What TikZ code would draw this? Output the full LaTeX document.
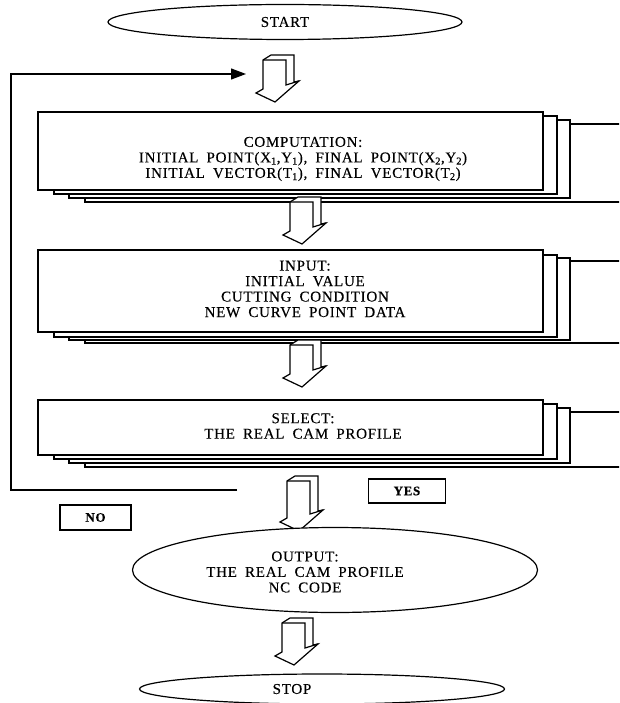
\documentclass[tikz,border=0pt]{standalone}
\usepackage{fontspec}
\setmainfont{Liberation Serif}[LetterSpace=5, WordSpace=1.8, FakeBold=0.3]
\usetikzlibrary{calc, positioning, arrows.meta, shapes.geometric}

\tikzset{
  pics/blockarrow/.style={code={
    \draw[fill=white] (0,0) -- (8,-5) -- (31,-5) -- (31,22+#1) -- (36,21+#1) -- (12,42+#1) -- (-7,33+#1) -- (0,29+#1) -- cycle;
    \draw (0,0) -- (23,0) -- (23,25+#1) -- (36,21+#1);
  }},
  pics/blockarrow/.default=0
}

\begin{document}
\begin{tikzpicture}[x=1pt, y=-1pt, line width=1.2pt,
  every node/.style={font=\fontsize{15}{15.5}\selectfont, align=center},
  box/.style={draw, fill=white, minimum width=505, minimum height=#1, inner sep=0pt},
  oval/.style={ellipse, draw, fill=white, inner sep=0pt},
  tag/.style={draw, font=\fontsize{13}{15}\selectfont\bfseries, inner sep=0pt}]
\clip (0,0) rectangle (619,703);

% Start
\node[oval, minimum width=354, minimum height=35] (start) at (285,22) {START};
\pic at (263,60) {blockarrow};

% Loop back
\coordinate (loopend) at (237,490);
\coordinate (loopin) at (246,74);
\draw[-{Triangle[length=15pt,width=11pt]}] (loopend) -- (11,490) -- (11,74) -- (loopin);

% Computation box and its stack
\foreach \d/\e/\r in {47/12/630, 31/8/570, 16/4/557}
  \draw[fill=white] (38+\d,112+\e) rectangle (\r,190+\e);
\node[box=78] (comp) at (290.5,151) {};
\node (comptext) at (303,159) {COMPUTATION:\\
  INITIAL POINT(X\textsubscript{1},Y\textsubscript{1}), FINAL POINT(X\textsubscript{2},Y\textsubscript{2})\\
  INITIAL VECTOR(T\textsubscript{1}), FINAL VECTOR(T\textsubscript{2})};
\pic at (290,202) {blockarrow};

% Input box
\foreach \d/\e/\r in {47/11/630, 31/8/570, 16/5/557}
  \draw[fill=white] (38+\d,250+\e) rectangle (\r,332+\e);
\node[box=82] (input) at (290.5,291) {};
\node (inputtext) at (305,289) {INPUT:\\ INITIAL VALUE\\ CUTTING CONDITION\\ NEW CURVE POINT DATA};
\pic at (290,345) {blockarrow};

% Select box
\foreach \d/\e/\r in {47/12/630, 31/8/570, 16/4/557}
  \draw[fill=white] (38+\d,400+\e) rectangle (\r,455+\e);
\node[box=55] (select) at (290.5,427.5) {};
\node (selecttext) at (303,426) {SELECT:\\ THE REAL CAM PROFILE};
\pic at (287,481) {blockarrow=8};

% Decision labels
\node[tag, minimum width=77, minimum height=24] (yes) at (407,491) {YES};
\node[tag, minimum width=71, minimum height=25] (no) at (95.5,517.5) {NO};

% Output and stop
\node[oval, minimum width=405, minimum height=85] (output) at (335,570) {};
\node (outputtext) at (305,572) {OUTPUT:\\ THE REAL CAM PROFILE\\ NC CODE};
\pic at (282,623) {blockarrow};
\node[oval, minimum width=365, minimum height=30] (stop) at (322,689) {};
\node (stoptext) at (292,689) {STOP};
\end{tikzpicture}
\end{document}
